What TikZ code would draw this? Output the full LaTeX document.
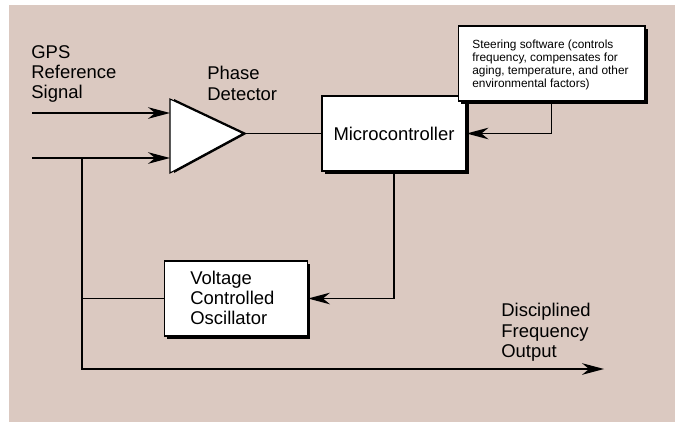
\documentclass[tikz,border=0pt]{standalone}
\usepackage{fontspec}
\setmainfont{Liberation Sans}
\usetikzlibrary{arrows.meta,shadows}
\definecolor{gpsbg}{RGB}{219,201,193}
\tikzset{
  blk/.style={draw,line width=.6pt,fill=white,inner sep=0pt,
    drop shadow={shadow xshift=1.6pt,shadow yshift=-1.6pt,fill=black,opacity=1}},
  wire/.style={line width=.75pt},
  sig/.style={wire,-{Stealth[length=12.5pt,width=6.6pt,inset=4pt]}},
  lbl/.style={anchor=north west,inner sep=0pt,align=left,font=\fontsize{10.5}{11.6}\selectfont},
  smalllbl/.style={lbl,font=\fontsize{6.75}{7.4}\selectfont},
}

\begin{document}
\begin{tikzpicture}[x=.02cm,y=-.02cm]
        \useasboundingbox (0,0) rectangle (675,423);
        \fill[gpsbg] (9,5) rectangle (675,422);
        % phase detector
        \coordinate (pdtop) at (170,99); \coordinate (pdbot) at (170,173); \coordinate (pdtip) at (243,133.5);
        \fill[black] (174,99) -- (247,133.5) -- (174,173) -- cycle;
        \filldraw[fill=white,line width=.6pt] (pdtop) -- (pdtip) -- (pdbot) -- cycle;
        % blocks
        \node[blk,minimum width=2.88cm,minimum height=1.5cm,font=\fontsize{10.5}{11.6}\selectfont] (mcu) at (394,133.5) {Microcontroller};
        \node[blk,minimum width=3.74cm,minimum height=1.5cm] (steer) at (551.5,63.5) {};
        \node[smalllbl] (steertxt) at (472,39.5)
          {Steering software (controls\\frequency, compensates for\\aging, temperature, and other\\environmental factors)};
        \node[blk,minimum width=2.86cm,minimum height=1.5cm] (vco) at (236,298.5) {};
        \node[lbl] (vcotxt) at (190,270.5) {Voltage\\Controlled\\Oscillator};
        % labels
        \node[lbl] (gpslbl) at (31,45) {GPS\\Reference\\Signal};
        \node[lbl] (pdlbl) at (207,66) {Phase\\Detector};
        \node[lbl] (outlbl) at (501,303) {Disciplined\\Frequency\\Output};
        % signal paths
        \coordinate (gpsin) at (32,113); \coordinate (fbin) at (32,158);
        \coordinate (tap) at (82,158); \coordinate (out) at (604,369);
        \draw[sig] (gpsin) -- (gpsin -| pdtop);
        \draw[sig] (fbin) -- (fbin -| pdtop);
        \draw[wire] (pdtip) -- (mcu.west);
        \draw[sig] (steer.south) |- (mcu.east);
        \draw[sig] (mcu.south) |- (vco.east);
        \draw[wire] (tap) |- (vco.west);
        \draw[sig] (tap) |- (out);
      \end{tikzpicture}
\end{document}
